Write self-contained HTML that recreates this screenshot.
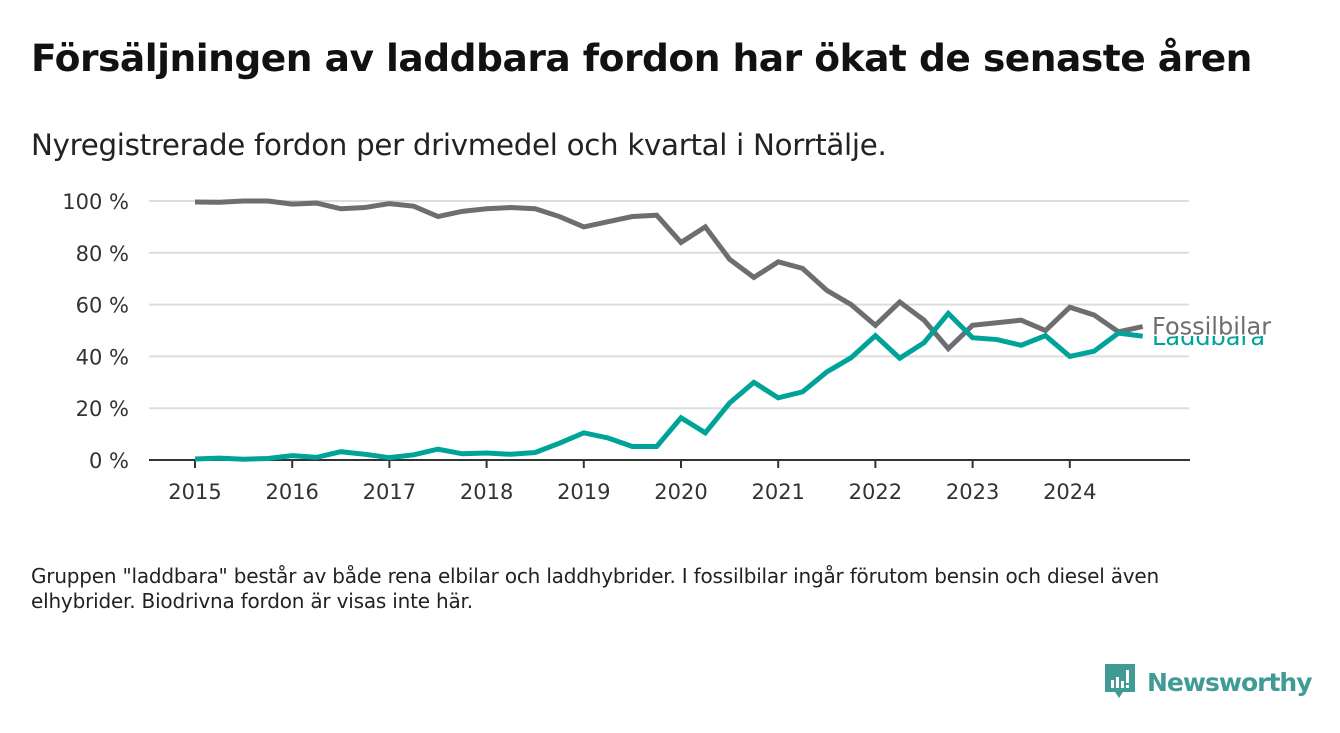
<!DOCTYPE html>
<html><head><meta charset="utf-8">
<style>
body{margin:0;width:1340px;height:733px;background:#fff;font-family:"DejaVu Sans","Liberation Sans",sans-serif;overflow:hidden;position:relative}
.t{position:absolute;left:31px;top:36px;font-size:37.6px;font-weight:bold;color:#111;letter-spacing:-0.5px}
.s{position:absolute;left:31px;top:128px;font-size:29.3px;color:#222;letter-spacing:-0.3px}
.n{position:absolute;left:31px;top:564px;font-size:20px;color:#222;line-height:25px;width:1212px;letter-spacing:-0.2px}
.logo{position:absolute;left:1103px;top:662px;display:flex;align-items:center;color:#3f9b94;font-weight:bold;letter-spacing:-1px}
</style></head><body>
<div class="t">Försäljningen av laddbara fordon har ökat de senaste åren</div>
<div class="s">Nyregistrerade fordon per drivmedel och kvartal i Norrtälje.</div>
<svg id="c" width="1340" height="733" style="position:absolute;left:0;top:0"></svg>
<div class="n">Gruppen "laddbara" består av både rena elbilar och laddhybrider. I fossilbilar ingår förutom bensin och diesel även elhybrider. Biodrivna fordon är visas inte här.</div>
<div class="logo">
<svg width="34" height="40" viewBox="0 0 34 40"><path d="M2 2h30v28H20l-4 6-4-6H2z" fill="#3f9b94"/><rect x="8" y="18" width="3" height="8" fill="#fff"/><rect x="13" y="15" width="3" height="11" fill="#fff"/><rect x="18" y="19" width="3" height="7" fill="#fff"/><rect x="23" y="8" width="3" height="13" fill="#fff"/><rect x="23" y="23" width="3" height="3" fill="#fff"/></svg>
<span style="margin-left:10px;font-size:25px">Newsworthy</span></div>
<script>
const years=[2015,2016,2017,2018,2019,2020,2021,2022,2023,2024];
const yTicks=[0,20,40,60,80,100];
const fossil=[99.6,99.5,100,100,98.8,99.2,97,97.5,99,98,94,96,97,97.5,97,94,90,92,94,94.5,84,90,77.5,70.5,76.5,74,65.5,60,52,61,54,43,52,53,54,50,59,56,49.5,51.5];
const laddbara=[0.4,0.7,0.3,0.6,1.7,1,3.2,2.2,0.9,2,4.2,2.4,2.7,2.2,2.9,6.5,10.5,8.5,5.2,5.2,16.3,10.5,22,30,24,26.3,34,39.5,48,39.3,45.3,56.6,47.2,46.5,44.3,48,40,42,49,47.8];
const svg=document.getElementById('c');const NS='http://www.w3.org/2000/svg';
const X=t=>195+(t-2015)*97.2;const Y=v=>460-v*2.59;
function el(tag,a,p){const e=document.createElementNS(NS,tag);for(const k in a)e.setAttribute(k,a[k]);(p||svg).appendChild(e);return e;}
yTicks.forEach(v=>{
 if(v>0){const g=el('line',{x1:149,x2:1189,y1:Y(v),y2:Y(v),stroke:'#ddd','stroke-width':2});
 
 }
 const t=el('text',{x:129,y:Y(v)+8,'text-anchor':'end','font-size':21,fill:'#333','font-family':'DejaVu Sans, Liberation Sans, sans-serif'});t.textContent=v+' %';
 
 
});
const ax=el('line',{x1:149,x2:1190,y1:460,y2:460,stroke:'#333','stroke-width':2});


years.forEach(yr=>{
 el('line',{x1:X(yr),x2:X(yr),y1:460,y2:468,stroke:'#333','stroke-width':2});
 const t=el('text',{x:X(yr),y:499,'text-anchor':'middle','font-size':21,fill:'#333','font-family':'DejaVu Sans, Liberation Sans, sans-serif'});t.textContent=yr;
 
 
});
function line(d,c,name){
 const p=el('polyline',{points:d.map((v,i)=>X(2015+i/4)+','+Y(v)).join(' '),fill:'none',stroke:c,'stroke-width':5,'stroke-linejoin':'miter'});
 
 
}
line(fossil,'#6e6d72','fossilbilar-line');
line(laddbara,'#00a397','laddbara-line');
const l2=el('text',{x:1152,y:Y(laddbara[39])+9,'font-size':24,fill:'#00a397','font-family':'DejaVu Sans, Liberation Sans, sans-serif'});l2.textContent='Laddbara';


const bg=el('rect',{x:1149,y:311,width:125,height:25,fill:'#fff'});
const l1=el('text',{x:1152,y:Y(fossil[39])+8,'font-size':24,fill:'#6e6d72','font-family':'DejaVu Sans, Liberation Sans, sans-serif'});l1.textContent='Fossilbilar';


</script>
</body></html>
